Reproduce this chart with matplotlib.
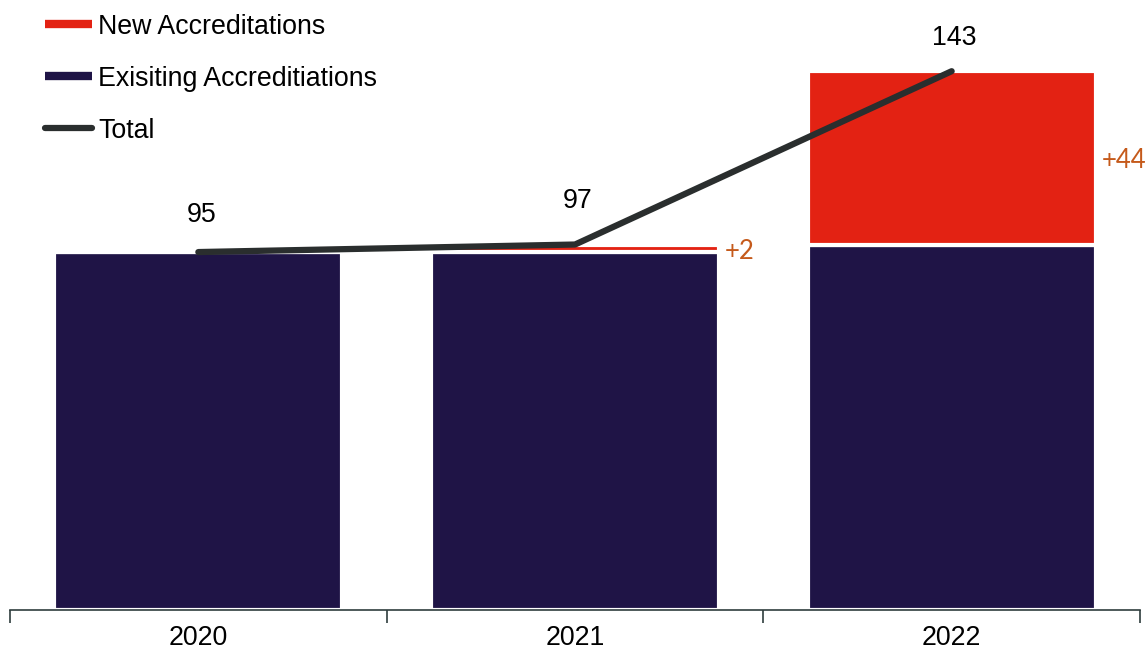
import matplotlib
matplotlib.use("Agg")
import matplotlib.pyplot as plt
from matplotlib.lines import Line2D
import numpy as np

years = ["2020", "2021", "2022"]
existing = [95, 95, 97]
new = [0, 2, 46]
total = [95, 97, 143]
total_labels = ["95", "97", "143"]
new_labels = ["", "+2", "+44"]

NAVY = "#1f1446"
RED = "#e32213"
LINE = "#2a2e2e"
ORANGE = "#c55a1b"
FS = 19.3

plt.rcParams["font.family"] = ["Liberation Sans", "DejaVu Sans"]

fig = plt.figure(figsize=(11.46, 6.53), dpi=100)
ax = fig.add_axes([10 / 1146, 43 / 653, 1130 / 1146, 610 / 653])

x = np.arange(len(years))
w = 0.765
ax.bar(x, existing, width=w, color=NAVY, edgecolor="white", linewidth=3, zorder=2)
ax.bar(x, new, bottom=existing, width=w, color=RED, edgecolor="white", linewidth=3, zorder=2)
ax.plot(x, total, color=LINE, lw=4.5, solid_capstyle="round", solid_joinstyle="round", zorder=3)

offsets = [37, 44, 33]
for i, (t, lab) in enumerate(zip(total, total_labels)):
    ax.annotate(lab, (x[i], t), xytext=(3, offsets[i]), textcoords="offset pixels",
                ha="center", va="center", fontsize=FS, color="black")

for i, lab in enumerate(new_labels):
    if lab:
        ax.annotate(lab, (x[i] + w / 2, existing[i] + new[i] / 2), xytext=(6, -3),
                    textcoords="offset pixels", ha="left", va="center",
                    fontsize=FS - 0.8, color=ORANGE, family=["Lato", "DejaVu Sans"])

ax.set_xlim(-0.5, len(years) - 0.5)
ax.set_ylim(0, 161.9)
for s in ["top", "right", "left"]:
    ax.spines[s].set_visible(False)
ax.spines["bottom"].set_color("#2f3d3d")
ax.spines["bottom"].set_linewidth(1.2)
ax.set_yticks([])
ax.set_xticks(np.arange(-0.5, len(years), 1.0))
ax.set_xticklabels([])
ax.set_xticks(x, minor=True)
ax.set_xticklabels(years, minor=True, fontsize=FS)
ax.tick_params(axis="x", which="major", direction="out", length=9, width=1.2, color="#2f3d3d")
ax.tick_params(axis="x", which="minor", length=0, pad=11)

handles = [
    Line2D([], [], color=RED, lw=6, solid_capstyle="butt"),
    Line2D([], [], color=NAVY, lw=6, solid_capstyle="butt"),
    Line2D([], [], color=LINE, lw=4.5, solid_capstyle="round"),
]
labels = ["New Accreditations", "Exisiting Accrediti" + "ations", "Total"]
leg = ax.legend(handles, labels, loc="upper left", bbox_to_anchor=(24 / 1130, 1.0 - 3 / 610),
                frameon=False, fontsize=FS, handlelength=1.75, handletextpad=0.25,
                labelspacing=0.97, borderaxespad=0)

fig.savefig("out.png", dpi=100)
